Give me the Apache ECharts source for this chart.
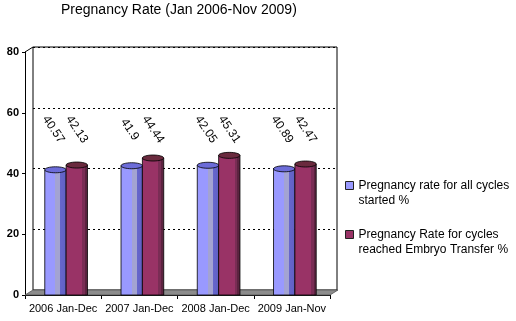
<!DOCTYPE html>
<html>
<head>
<meta charset="utf-8">
<script src="https://cdn.jsdelivr.net/npm/echarts@6/dist/echarts.min.js"></script>
<style>
  html, body { margin: 0; padding: 0; background: #fff; }
  #chart { width: 516px; height: 321px; }
</style>
</head>
<body>
<div id="chart"></div>
<script>
// ---- data ----
const categories = ['2006 Jan-Dec', '2007 Jan-Dec', '2008 Jan-Dec', '2009 Jan-Nov'];
const allCycles = [40.57, 41.9, 42.05, 40.89];
const embryoTransfer = [42.13, 44.44, 45.31, 42.47];
const seriesNames = ['Pregnancy rate for all cycles\nstarted %', 'Pregnancy Rate for cycles\nreached Embryo Transfer %'];
const yTicks = { min: 0, max: 80, interval: 20 };
const titleText = 'Pregnancy Rate (Jan 2006-Nov 2009)';

// ---- style ----
const FONT = "'Liberation Sans', Arial, sans-serif";
const DEPTH_X = 8, DEPTH_Y = 5;     // 3D depth offset of back wall
const LABEL_LEVEL = 54.5;           // value level at which rotated labels sit
const palettes = [
  { stops: [['#9999ff', 0], ['#9999ff', 0.5], ['#a3a3d2', 0.5], ['#a3a3d2', 0.72], ['#6666cc', 0.72], ['#6060c4', 1]], top: '#6c6cd8', main: '#9999ff', lblOff: -2 },
  { stops: [['#993366', 0], ['#993366', 0.74], ['#7a2d55', 0.74], ['#7a2d55', 0.86], ['#5c2340', 0.86], ['#5c2340', 1]], top: '#6a2a3e', main: '#993366', lblOff: 0 }
];

function cylinder(si) {
  const pal = palettes[si];
  return function (params, api) {
    const cat = api.value(0), val = api.value(1);
    const base = api.coord([cat, 0]);
    const top = api.coord([cat, val]);
    const lbl = api.coord([cat, LABEL_LEVEL]);
    const band = api.size([1, 0])[0];
    const bw = band * 0.28;
    const cx = base[0] + 3 + (si === 0 ? -bw / 2 : bw / 2);
    const ry = 3;
    const ty = top[1] - 2;
    return {
      type: 'group',
      children: [
        {
          type: 'rect',
          shape: { x: cx - bw / 2, y: ty, width: bw, height: base[1] - ty },
          style: {
            fill: {
              type: 'linear', x: 0, y: 0, x2: 1, y2: 0,
              colorStops: pal.stops.map(s => ({ offset: s[1], color: s[0] }))
            },
            stroke: '#000', lineWidth: 0.8
          }
        },
        {
          type: 'ellipse',
          shape: { cx: cx, cy: ty, rx: bw / 2, ry: ry },
          style: { fill: pal.top, stroke: '#000', lineWidth: 0.8 }
        },
        {
          type: 'text',
          x: cx + pal.lblOff,
          y: lbl[1],
          rotation: -56 * Math.PI / 180,
          style: {
            text: String(val),
            fontSize: 12,
            fontFamily: FONT,
            fill: '#000',
            align: 'center',
            verticalAlign: 'middle'
          }
        }
      ]
    };
  };
}

function floor(params, api) {
  const cs = params.coordSys;
  const x = cs.x, y = cs.y, w = cs.width, h = cs.height;
  const b = y + h;
  return {
    type: 'group',
    children: [
      {
        type: 'polygon',
        shape: { points: [[x, b], [x + w, b], [x + w + DEPTH_X, b - DEPTH_Y], [x + DEPTH_X, b - DEPTH_Y]] },
        style: { fill: '#8c8c8c', stroke: '#555', lineWidth: 0.8 }
      },
      {
        type: 'line',
        shape: { x1: x, y1: y, x2: x + DEPTH_X, y2: y - DEPTH_Y },
        style: { stroke: '#000', lineWidth: 1 }
      }
    ]
  };
}

const chart = echarts.init(document.getElementById('chart'));
chart.setOption({
  backgroundColor: '#fff',
  animation: false,
  textStyle: { fontFamily: FONT },
  title: {
    text: titleText,
    left: 61, top: 3, padding: 0,
    textStyle: { fontSize: 14, fontWeight: 'normal', color: '#000', fontFamily: FONT }
  },
  legend: {
    orient: 'vertical',
    left: 345, top: 178, padding: 0,
    itemWidth: 8, itemHeight: 30, itemGap: 18,
    icon: 'path://M0,0M0,3h8v8h-8zM0,30',
    itemStyle: { borderColor: '#222', borderWidth: 1 },
    textStyle: { fontSize: 12, lineHeight: 15, color: '#000', fontFamily: FONT },
    data: [
      { name: seriesNames[0], itemStyle: { color: palettes[0].main } },
      { name: seriesNames[1], itemStyle: { color: palettes[1].main } }
    ]
  },
  grid: [
    { left: 25, right: 186, top: 52, bottom: 26 },
    { left: 25 + DEPTH_X, right: 186 - DEPTH_X + 1, top: 52 - DEPTH_Y, bottom: 26 + DEPTH_Y,
      show: true, borderColor: '#000', borderWidth: 1, backgroundColor: 'transparent' }
  ],
  xAxis: [
    {
      type: 'category', gridIndex: 0, data: categories,
      axisLine: { lineStyle: { color: '#000', width: 1 } },
      axisTick: { show: true, length: 4, lineStyle: { color: '#000' } },
      axisLabel: { color: '#000', fontSize: 11, margin: 8, fontFamily: FONT, interval: 0 },
      splitLine: { show: false }
    },
    { type: 'category', gridIndex: 1, data: categories, show: false }
  ],
  yAxis: [
    {
      type: 'value', gridIndex: 0, min: yTicks.min, max: yTicks.max, interval: yTicks.interval,
      axisLine: { show: true, lineStyle: { color: '#000', width: 1 } },
      axisTick: { show: true, length: 3, lineStyle: { color: '#000' } },
      axisLabel: { color: '#000', fontSize: 11, fontWeight: 'bold', margin: 6, fontFamily: FONT },
      splitLine: { show: false }
    },
    {
      type: 'value', gridIndex: 1, min: yTicks.min, max: yTicks.max, interval: yTicks.interval,
      axisLine: { show: false }, axisTick: { show: false }, axisLabel: { show: false },
      splitLine: { show: true, lineStyle: { color: '#000', width: 1, type: [2, 3] } }
    }
  ],
  series: [
    {
      type: 'custom', name: 'floor', xAxisIndex: 0, yAxisIndex: 0, z: 2,
      renderItem: floor, data: [[0, 0]], silent: true, clip: false
    },
    {
      type: 'custom', name: seriesNames[0], xAxisIndex: 0, yAxisIndex: 0, z: 3,
      itemStyle: { color: palettes[0].main },
      renderItem: cylinder(0), clip: false,
      data: allCycles.map((v, i) => [i, v])
    },
    {
      type: 'custom', name: seriesNames[1], xAxisIndex: 0, yAxisIndex: 0, z: 3,
      itemStyle: { color: palettes[1].main },
      renderItem: cylinder(1), clip: false,
      data: embryoTransfer.map((v, i) => [i, v])
    }
  ]
});
</script>
</body>
</html>
